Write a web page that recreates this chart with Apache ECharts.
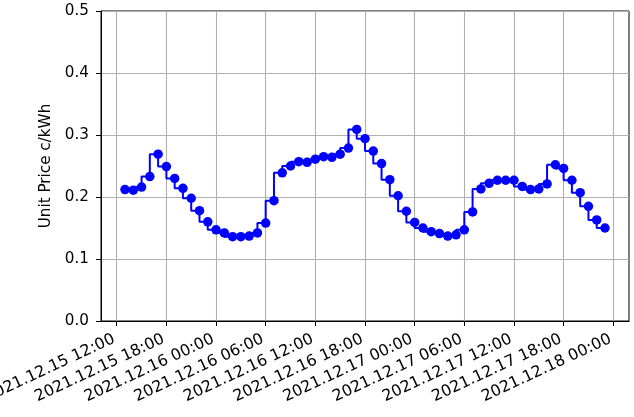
<!DOCTYPE html>
<html>
<head>
<meta charset="utf-8">
<script src="https://cdn.jsdelivr.net/npm/echarts@6/dist/echarts.min.js"></script>
<style>
  html, body { margin: 0; padding: 0; background: #fff; }
  #chart { width: 634px; height: 417px; }
</style>
</head>
<body>
<div id="chart"></div>
<script>
// Hourly unit price, 2021-12-15 13:00 through 2021-12-17 23:00
const startTime = '2021-12-15 13:00';
const prices = [
  // Dec 15, 13:00 - 23:00
  0.212, 0.211, 0.216, 0.233, 0.269, 0.249, 0.230, 0.214, 0.198, 0.178, 0.160,
  // Dec 16, 00:00 - 23:00
  0.147, 0.142, 0.136, 0.136, 0.137, 0.142, 0.158, 0.194, 0.239, 0.250, 0.257, 0.256,
  0.261, 0.265, 0.264, 0.269, 0.279, 0.309, 0.294, 0.274, 0.254, 0.228, 0.202, 0.177,
  // Dec 17, 00:00 - 23:00
  0.159, 0.150, 0.144, 0.141, 0.137, 0.139, 0.147, 0.176, 0.213, 0.222, 0.227, 0.227,
  0.227, 0.217, 0.212, 0.213, 0.221, 0.252, 0.246, 0.227, 0.207, 0.185, 0.163, 0.150
];
const tickTimes = [
  '2021-12-15 12:00', '2021-12-15 18:00', '2021-12-16 00:00', '2021-12-16 06:00',
  '2021-12-16 12:00', '2021-12-16 18:00', '2021-12-17 00:00', '2021-12-17 06:00',
  '2021-12-17 12:00', '2021-12-17 18:00', '2021-12-18 00:00'
];
const yTicks = [0.0, 0.1, 0.2, 0.3, 0.4, 0.5];

// x positions are hours counted from 2021-12-15 00:00
const EPOCH = Date.UTC(2021, 11, 15, 0, 0);
const HOUR = 3600 * 1000;
function toHours(s) {
  const [d, t] = s.split(' ');
  const [Y, M, D] = d.split('-').map(Number);
  const [h, m] = t.split(':').map(Number);
  return (Date.UTC(Y, M - 1, D, h, m) - EPOCH) / HOUR;
}
function pad(n) { return String(n).padStart(2, '0'); }
function fmt(hours) {
  const d = new Date(EPOCH + Math.round(hours * HOUR));
  return d.getUTCFullYear() + '.' + pad(d.getUTCMonth() + 1) + '.' + pad(d.getUTCDate()) +
    ' ' + pad(d.getUTCHours()) + ':' + pad(d.getUTCMinutes());
}

const h0 = toHours(startTime);
const points = prices.map((v, i) => [h0 + i, v]);
const ticks = tickTimes.map(toHours);

// 5% padding on each side of the data span
const first = points[0][0], last = points[points.length - 1][0];
const span = last - first;
const xMin = first - 0.05 * span;
const xMax = last + 0.05 * span;

const font = 'DejaVu Sans';
const fontSize = 15.2;
const chart = echarts.init(document.getElementById('chart'), null, { renderer: 'canvas' });
chart.setOption({
  animation: false,
  backgroundColor: '#ffffff',
  grid: {
    left: 101, right: 5, top: 11, bottom: 96,
    outerBoundsMode: 'none',
    containLabel: false,
    show: true, borderColor: '#000', borderWidth: 1, backgroundColor: 'transparent'
  },
  xAxis: {
    type: 'value',
    min: xMin, max: xMax,
    axisLine: { show: true, onZero: false, lineStyle: { color: '#000', width: 1 } },
    axisTick: { show: true, length: 5, lineStyle: { color: '#000', width: 1 }, customValues: ticks },
    axisLabel: {
      customValues: ticks,
      rotate: 25,
      margin: 16,
      padding: [0, 3, 0, 0],
      color: '#000',
      fontFamily: font,
      fontSize: 15.8,
      formatter: v => fmt(v)
    },
    splitLine: { show: true, lineStyle: { color: '#b0b0b0', width: 1.1 } }
  },
  yAxis: {
    type: 'value',
    min: yTicks[0], max: yTicks[yTicks.length - 1], interval: 0.1,
    name: 'Unit Price c/kWh',
    nameLocation: 'middle',
    nameGap: 39,
    nameTextStyle: { color: '#000', fontFamily: font, fontSize: fontSize },
    axisLine: { show: true, lineStyle: { color: '#000', width: 1 } },
    axisTick: { show: true, length: 5, lineStyle: { color: '#000', width: 1 } },
    axisLabel: {
      color: '#000', fontFamily: font, fontSize: fontSize, margin: 12,
      formatter: v => v.toFixed(1)
    },
    splitLine: { show: true, lineStyle: { color: '#b0b0b0', width: 1.1 } }
  },
  series: [{
    type: 'line',
    step: 'start',
    data: points,
    symbol: 'circle',
    symbolSize: 9.5,
    showAllSymbol: true,
    itemStyle: { color: '#0000ff' },
    lineStyle: { color: '#0000ff', width: 2 }
  }]
});
</script>
</body>
</html>
